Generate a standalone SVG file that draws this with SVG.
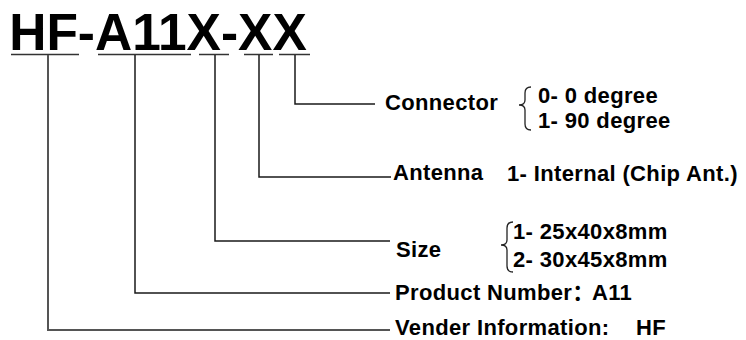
<svg xmlns="http://www.w3.org/2000/svg" width="746" height="340" viewBox="0 0 746 340">
<style>
  .t { font-family: "Liberation Sans", Arial, "Noto Sans CJK SC", sans-serif; font-weight: bold; fill: #000; }
  .lbl { font-size: 22px; letter-spacing: 0.35px; }
  .ln { fill: none; stroke: #1a1a1a; stroke-width: 1.5; }
  .ul { fill: none; stroke: #333; stroke-width: 1.5; }
  .br { fill: none; stroke: #222; stroke-width: 1.3; }
</style>
<rect width="746" height="340" fill="#fff"/>

<g id="title">
  <text class="t" x="9.2" y="49.5" font-size="51.5">HF-A11X-XX</text>
  <line class="ul" x1="11" y1="54.5" x2="79" y2="54.5"/>
  <line class="ul" x1="98" y1="54.5" x2="191" y2="54.5"/>
  <line class="ul" x1="199" y1="54.5" x2="229" y2="54.5"/>
  <line class="ul" x1="244" y1="54.5" x2="273" y2="54.5"/>
  <line class="ul" x1="279" y1="54.5" x2="310" y2="54.5"/>
</g>

<g id="connectors">
  <polyline class="ln" points="295,55 295,104 375,104"/>
  <polyline class="ln" points="259,55 259,177 391,177"/>
  <polyline class="ln" points="215,55 215,241 390,241"/>
  <polyline class="ln" points="135,55 135,293 390,293"/>
  <polyline class="ln" points="48,55 48,330 390,330" style="stroke:#555;stroke-width:2"/>
</g>

<g id="connector">
  <text class="t lbl" x="385" y="110">Connector</text>
  <path class="br" d="M531,87 Q525,87 525,93 V100 Q525,105 519,105 Q525,105 525,110 V124 Q525,130 531,130"/>
  <text class="t lbl" x="538" y="103">0- 0 degree</text>
  <text class="t lbl" x="538" y="128">1- 90 degree</text>
</g>

<g id="antenna">
  <text class="t lbl" x="393" y="180">Antenna</text>
  <text class="t lbl" x="507" y="181">1- Internal (Chip Ant.)</text>
</g>

<g id="size">
  <text class="t lbl" x="396" y="257">Size</text>
  <path class="br" d="M513,222 Q507,222 507,228 V240 Q507,245 501,245 Q507,245 507,250 V266 Q507,272 513,272"/>
  <text class="t lbl" x="513" y="239">1- 25x40x8mm</text>
  <text class="t lbl" x="513" y="267">2- 30x45x8mm</text>
</g>

<g id="product">
  <text class="t lbl" x="395" y="300">Product Number：<tspan x="592">A11</tspan></text>
</g>

<g id="vender">
  <text class="t lbl" x="395" y="335">Vender Information:<tspan x="636">HF</tspan></text>
</g>
</svg>
